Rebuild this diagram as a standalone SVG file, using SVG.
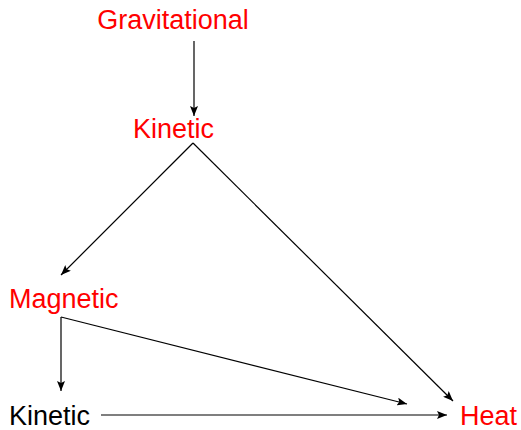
<svg xmlns="http://www.w3.org/2000/svg" width="521" height="430" viewBox="0 0 521 430">
<style>
text{font-family:"Liberation Sans",Arial,sans-serif;font-size:27px}
.r{fill:#ff0000}
.k{fill:#000}
.e{stroke:#000;stroke-width:1.2;fill:none;marker-end:url(#ah)}
</style>
<defs>
<marker id="ah" viewBox="0 0 10 8" refX="10" refY="4" markerWidth="10" markerHeight="8" markerUnits="userSpaceOnUse" orient="auto">
<path d="M0,0 L10,4 L0,8 L2,4 Z" fill="#000"/>
</marker>
</defs>
<rect width="521" height="430" fill="#fff"/>
<g id="connectors">
<line class="e" x1="194" y1="41" x2="194" y2="116"/>
<path class="e" d="M193,143 L61,275"/>
<path class="e" d="M193,143 L453,401"/>
<path class="e" d="M61,317 L61,391"/>
<path class="e" d="M61,317 L407,404"/>
<path class="e" d="M101,415 L447,415"/>
</g>
<g id="gravitational"><text class="r" x="173" y="29" text-anchor="middle">Gravitational</text></g>
<g id="kinetic1"><text class="r" x="173.5" y="138" text-anchor="middle">Kinetic</text></g>
<g id="magnetic"><text class="r" x="9" y="308">Magnetic</text></g>
<g id="kinetic2"><text class="k" x="9" y="425">Kinetic</text></g>
<g id="heat"><text class="r" x="460" y="425">Heat</text></g>
</svg>
